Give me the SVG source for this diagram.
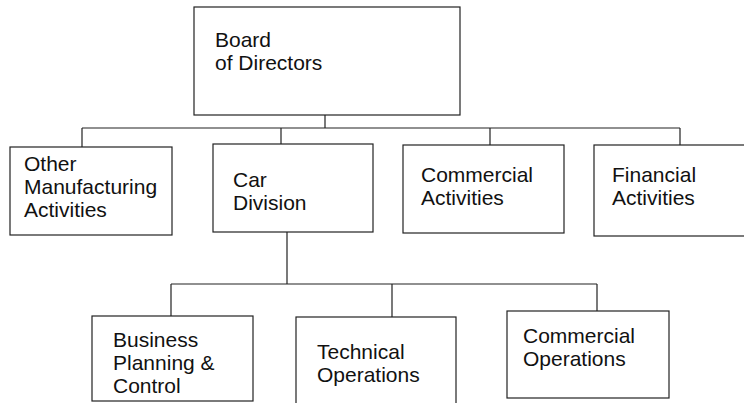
<svg xmlns="http://www.w3.org/2000/svg" width="744" height="403" viewBox="0 0 744 403">
<style>
.box{fill:#fff;stroke:#222;stroke-width:1.2}
.ln{fill:none;stroke:#222;stroke-width:1.2}
text{font-family:"Liberation Sans",Arial,sans-serif;font-size:21px;fill:#111}
</style>
<rect width="744" height="403" fill="#fff"/>
<g id="connectors">
<path class="ln" d="M325,115 V128 M82,128 H680 M82,128 V147 M281,128 V144 M490,128 V145 M680,128 V145"/>
<path class="ln" d="M287,232 V284 M171,284 H597 M171,284 V316 M392,284 V317 M597,284 V311"/>
</g>
<g id="board">
<rect class="box" x="194" y="7" width="266" height="108"/>
<text x="215" y="47">Board</text>
<text x="215" y="70">of Directors</text>
</g>
<g id="other">
<rect class="box" x="10" y="147" width="162" height="88"/>
<text x="24" y="171">Other</text>
<text x="24" y="194">Manufacturing</text>
<text x="24" y="217">Activities</text>
</g>
<g id="car">
<rect class="box" x="213" y="144" width="160" height="88"/>
<text x="233" y="187">Car</text>
<text x="233" y="210">Division</text>
</g>
<g id="commercial-activities">
<rect class="box" x="403" y="145" width="161" height="88"/>
<text x="421" y="182">Commercial</text>
<text x="421" y="205">Activities</text>
</g>
<g id="financial">
<rect class="box" x="594" y="145" width="170" height="91"/>
<text x="612" y="182">Financial</text>
<text x="612" y="205">Activities</text>
</g>
<g id="business">
<rect class="box" x="92" y="316" width="161" height="85"/>
<text x="113" y="347">Business</text>
<text x="113" y="370">Planning &amp;</text>
<text x="113" y="393">Control</text>
</g>
<g id="technical">
<rect class="box" x="296" y="317" width="160" height="100"/>
<text x="317" y="359">Technical</text>
<text x="317" y="382">Operations</text>
</g>
<g id="commercial-operations">
<rect class="box" x="507" y="311" width="162" height="87"/>
<text x="523" y="343">Commercial</text>
<text x="523" y="366">Operations</text>
</g>
</svg>
